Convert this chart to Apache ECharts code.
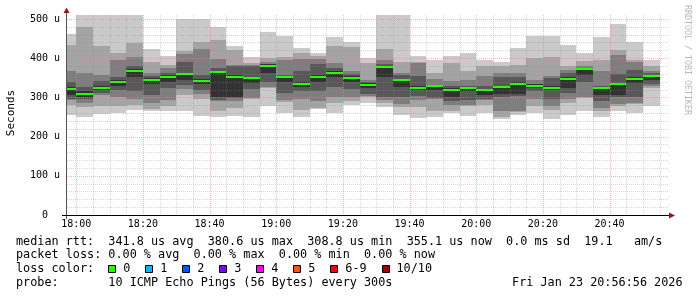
<!DOCTYPE html>
<html><head><meta charset="utf-8">
<script src="https://cdn.jsdelivr.net/npm/echarts@6/dist/echarts.min.js"></script>
<style>html,body{margin:0;padding:0;background:#fff;overflow:hidden}#c{width:697px;height:297px}</style>
</head><body><div id="c"></div>
<script>
// ---- data ----
const times = ['18:00','18:05','18:10','18:15','18:20','18:25','18:30','18:35','18:40','18:45','18:50','18:55',
  '19:00','19:05','19:10','19:15','19:20','19:25','19:30','19:35','19:40','19:45','19:50','19:55',
  '20:00','20:05','20:10','20:15','20:20','20:25','20:30','20:35','20:40','20:45','20:50','20:55'];
// ten pings per step, sorted low -> high (microseconds)
const ping01 = [255,251,258,261,268,266,266,266,253,251,253,250,278,261,250,270,261,281,285,275,256,247,250,261,253,260,245,256,261,245,256,264,251,264,261,277];
const ping02 = [281,275,277,277,281,270,277,306,295,266,273,295,323,287,267,274,285,290,300,285,275,275,264,266,278,281,251,262,278,268,285,298,264,278,283,323];
const ping03 = [293,285,305,302,296,285,294,321,308,290,290,298,326,294,296,290,302,300,303,292,284,294,296,281,281,292,266,266,296,278,296,302,273,282,285,330];
const ping04 = [296,296,310,318,315,305,323,332,319,293,298,321,340,311,317,315,326,321,309,302,300,304,298,291,294,296,302,304,315,296,311,338,290,300,301,335];
const ping05 = [306,300,320,330,352,333,338,345,333,300,302,336,362,338,326,338,352,340,323,351,326,319,318,302,315,306,309,309,323,318,325,357,306,306,336,345];
const ping06 = [326,315,330,343,373,349,357,363,346,368,357,353,384,355,340,357,366,355,336,381,346,328,330,323,326,321,329,338,333,328,352,375,326,336,352,358];
const ping07 = [340,326,342,353,379,355,363,391,357,375,379,379,386,358,366,385,374,360,340,385,357,355,332,330,329,328,352,353,335,350,363,376,330,360,370,362];
const ping08 = [368,363,357,396,404,363,374,411,423,397,383,383,391,396,397,397,387,368,345,394,363,388,347,342,345,355,363,363,345,355,370,380,366,408,389,368];
const ping09 = [434,480,430,414,438,391,383,417,440,447,421,387,400,402,413,406,430,428,387,424,391,391,363,387,368,379,381,383,400,402,381,393,396,421,396,380];
const ping10 = [462,520,515,515,515,423,406,499,499,480,432,402,467,457,425,414,455,442,400,515,515,406,396,406,414,396,391,427,457,457,434,414,453,487,440,394];
const median = [322,309,325,339,368,345,351,360,342,364,353,349,381,351,335,353,363,350,331,377,343,324,328,320,323,318,327,335,330,323,348,372,323,333,348,355];

const xTickLabels = ['18:00','18:20','18:40','19:00','19:20','19:40','20:00','20:20','20:40'];
const yTickValues = [0,100,200,300,400,500];
const yTickLabels = ['0  ','100 u','200 u','300 u','400 u','500 u'];
const axisStart = '17:56:56', axisEnd = '20:56:56';
const lossLabels = ['0','1','2','3','4','5','6-9','10/10'];
const lossColors = ['#26ff00','#00b8ff','#0059ff','#7e00ff','#ff00ff','#ff5500','#ff0000','#a10000'];
const smokeColors = ['#cacaca','#a4a4a4','#7e7e7e','#585858','#323232'];
const medianColor = '#26ff00';
const STEP = 5; // minutes per probe step
const legendLines = [
  'median rtt:  341.8 us avg  380.6 us max  308.8 us min  355.1 us now  0.0 ms sd  19.1   am/s',
  'packet loss: 0.00 % avg  0.00 % max  0.00 % min  0.00 % now',
  'loss color:',
  'probe:       10 ICMP Echo Pings (56 Bytes) every 300s'
];
const stamp = 'Fri Jan 23 20:56:56 2026';

// ---- helpers ----
function toMin(s){ const p = s.split(':').map(Number); return (p[0]*60 + p[1] + (p[2]||0)/60) - 18*60; }
const pings = [ping01,ping02,ping03,ping04,ping05,ping06,ping07,ping08,ping09,ping10];
const MONO = 'DejaVu Sans Mono';

function clipTo(rect, cs){
  return echarts.graphic.clipRectByRect(rect, {x:cs.x, y:cs.y, width:cs.width, height:cs.height});
}
function bandRender(color){
  return function(params, api){
    const a = api.coord([api.value(0), api.value(3)]);
    const b = api.coord([api.value(1), api.value(2)]);
    const x0 = Math.round(a[0]), x1 = Math.round(b[0]);
    const y0 = Math.round(a[1]), y1 = Math.round(b[1]);
    const r = clipTo({x:x0, y:y0, width:x1-x0, height:y1-y0}, params.coordSys);
    if (!r) return;
    return {type:'rect', shape:r, style:{fill:color}};
  };
}
const series = [];
for (let i = 0; i < 5; i++){
  const lo = pings[i], hi = pings[9-i];
  series.push({
    type:'custom', name:'band'+i, silent:true, z:2,
    renderItem: bandRender(smokeColors[i]),
    encode:{x:[0,1], y:[2,3]},
    data: times.map((t,k)=>[toMin(t)-STEP, toMin(t), lo[k], hi[k]])
  });
}
series.push({
  type:'custom', name:'median', silent:true, z:3,
  encode:{x:[0,1], y:2},
  data: times.map((t,k)=>[toMin(t)-STEP, toMin(t), median[k]]),
  renderItem: function(params, api){
    const a = api.coord([api.value(0), api.value(2)]);
    const b = api.coord([api.value(1), api.value(2)]);
    const x0 = Math.round(a[0]), x1 = Math.round(b[0]);
    const y = Math.round(a[1]);
    const r = clipTo({x:x0, y:y-1, width:x1-x0, height:2}, params.coordSys);
    if (!r) return;
    return {type:'rect', shape:r, style:{fill:medianColor}};
  }
});
// grid lines (drawn above the smoke, like rrdtool)
const minorCol = 'rgba(140,140,140,0.35)', majorCol = 'rgba(245,128,128,0.55)';
const vgrid = times.map(t => [toMin(t), 0, xTickLabels.indexOf(t) >= 0 ? 1 : 0]);
const hgrid = [];
for (let v = 20; v <= 500; v += 20) hgrid.push([toMin(axisStart), v, yTickValues.indexOf(v) >= 0 ? 1 : 0]);
series.push({
  type:'custom', name:'vgrid', silent:true, z:5, encode:{x:0, y:1}, data:vgrid,
  renderItem: function(params, api){
    const cs = params.coordSys;
    const p = api.coord([api.value(0), 0]);
    const x = Math.round(p[0]) + 0.5;
    return {type:'line', shape:{x1:x, y1:cs.y, x2:x, y2:cs.y+cs.height},
      style:{stroke: api.value(2) ? majorCol : minorCol, lineWidth:1, lineDash:[1,1]}};
  }
});
series.push({
  type:'custom', name:'hgrid', silent:true, z:5, encode:{x:0, y:1}, data:hgrid,
  renderItem: function(params, api){
    const cs = params.coordSys;
    const p = api.coord([api.value(0), api.value(1)]);
    const y = Math.round(p[1]) + 0.5;
    return {type:'line', shape:{x1:cs.x+1, y1:y, x2:cs.x+cs.width+2, y2:y},
      style:{stroke: api.value(2) ? majorCol : minorCol, lineWidth:1, lineDash:[1,1]}};
  }
});

// ---- layout ----
const G = {left:66, top:15, width:600, height:200};
const CW = 7.1; // legend char advance
const legendX = 16, col2 = legendX + 13*CW;
const lineY = [241.5, 255.3, 269.1, 282.9];
const arrowCol = '#8a1c1c';

const graphic = [];
legendLines.forEach((s,i)=>{
  graphic.push({type:'text', x:legendX, y:lineY[i], silent:true,
    style:{text:s, font:'11.8px "'+MONO+'"', fill:'#000', verticalAlign:'middle', align:'left'}});
});
graphic.push({type:'text', x:682.5, y:lineY[3], silent:true,
  style:{text:stamp, font:'11.8px "'+MONO+'"', fill:'#000', verticalAlign:'middle', align:'right'}});
let pos = col2;
lossLabels.forEach((lab,i)=>{
  graphic.push({type:'rect', silent:true, shape:{x:Math.round(pos)+0.5, y:265.5, width:7, height:7},
    style:{fill:lossColors[i], stroke:'#000', lineWidth:1}});
  graphic.push({type:'text', silent:true, x:pos+15, y:lineY[2],
    style:{text:lab, font:'11.8px "'+MONO+'"', fill:'#000', verticalAlign:'middle', align:'left'}});
  pos += 15.7 + lab.length*CW + 2*CW;
});
// unit title & watermark
graphic.push({type:'text', silent:true, x:11, y:113, rotation:Math.PI/2,
  style:{text:'Seconds', font:'11px "'+MONO+'"', fill:'#000', align:'center', verticalAlign:'middle'}});
graphic.push({type:'text', silent:true, x:687.5, y:60, rotation:-Math.PI/2,
  style:{text:'RRDTOOL / TOBI OETIKER', font:'8.3px "'+MONO+'"', fill:'#b8b8b8', align:'center', verticalAlign:'middle'}});
// axis extensions and arrows
const ax = G.left + 0.5, ay = G.top + G.height + 0.5;
graphic.push({type:'line', silent:true, z:10, shape:{x1:ax, y1:G.top, x2:ax, y2:11}, style:{stroke:'#555', lineWidth:1}});
graphic.push({type:'line', silent:true, z:10, shape:{x1:ax, y1:ay, x2:ax, y2:219}, style:{stroke:'#555', lineWidth:1}});
graphic.push({type:'line', silent:true, z:10, shape:{x1:62, y1:ay, x2:670, y2:ay}, style:{stroke:'#000', lineWidth:1}});
graphic.push({type:'polygon', silent:true, z:10, shape:{points:[[ax-3,13],[ax+3,13],[ax,7.5]]}, style:{fill:arrowCol}});
graphic.push({type:'polygon', silent:true, z:10, shape:{points:[[669,ay-3],[669,ay+3],[675,ay]]}, style:{fill:arrowCol}});

const option = {
  animation:false,
  backgroundColor:'#fff',
  grid:{left:G.left, top:G.top, width:G.width, height:G.height, containLabel:false, outerBoundsMode:'none'},
  xAxis:{
    type:'value', min:toMin(axisStart), max:toMin(axisEnd), z:6,
    axisLine:{show:true, onZero:false, lineStyle:{color:'#000', width:1}},
    axisTick:{show:false},
    splitLine:{show:false},
    axisLabel:{
      customValues: xTickLabels.map(toMin),
      formatter: v => { const i = xTickLabels.map(toMin).findIndex(m => Math.abs(m - v) < 1e-6); return i >= 0 ? xTickLabels[i] : ''; },
      fontFamily:MONO, fontSize:10, color:'#000', margin:4
    }
  },
  yAxis:{
    type:'value', min:0, max:510, z:6,
    axisLine:{show:true, onZero:false, lineStyle:{color:'#555', width:1}},
    axisTick:{show:false},
    splitLine:{show:false},
    axisLabel:{
      customValues: yTickValues,
      formatter: v => { const i = yTickValues.indexOf(v); return i >= 0 ? yTickLabels[i] : ''; },
      fontFamily:MONO, fontSize:10, color:'#000', margin:6
    }
  },
  series: series,
  graphic: graphic
};
const chart = echarts.init(document.getElementById('c'), null, {renderer:'canvas'});
chart.setOption(option);
</script></body></html>
